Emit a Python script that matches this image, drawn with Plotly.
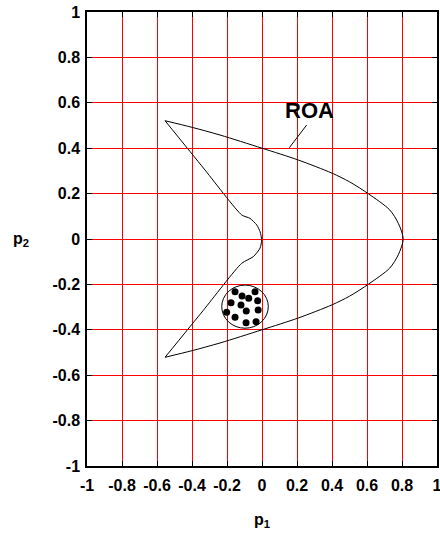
import plotly.graph_objects as go

# Outer boundary of the region of attraction: top vertex -> right bulge -> bottom vertex
outer_p1 = [-0.554, -0.40, -0.24, 0.0, 0.207, 0.40, 0.50, 0.61, 0.73, 0.779, 0.807,
            0.779, 0.73, 0.61, 0.50, 0.40, 0.207, 0.0, -0.24, -0.40, -0.554]
outer_p2 = [0.521, 0.492, 0.458, 0.40, 0.348, 0.29, 0.252, 0.198, 0.128, 0.069, 0.0,
            -0.069, -0.128, -0.198, -0.252, -0.29, -0.348, -0.40, -0.458, -0.492, -0.521]

# Inner boundary: bottom vertex -> notch near the origin -> top vertex
inner_p1 = [-0.554, -0.335, -0.116, -0.05, -0.011, -0.002, -0.011, -0.03, -0.069, -0.116, -0.335, -0.554]
inner_p2 = [-0.521, -0.314, -0.107, -0.078, -0.04, -0.004, 0.032, 0.062, 0.091, 0.106, 0.313, 0.521]

# Sample points inside the initial-condition disc
dots_p1 = [-0.154, -0.114, -0.076, -0.040, -0.025, -0.177, -0.120,
           -0.090, -0.022, -0.202, -0.154, -0.091, -0.034]
dots_p2 = [-0.232, -0.251, -0.261, -0.232, -0.272, -0.281, -0.291,
           -0.317, -0.313, -0.323, -0.345, -0.369, -0.364]

# Disc bounding box
disc_p1 = [-0.230, 0.036]
disc_p2 = [-0.393, -0.203]

# ROA label and leader line
label_pos = [0.269, 0.568]
leader_p1 = [0.255, 0.156]
leader_p2 = [0.502, 0.402]

tick_vals = [-1, -0.8, -0.6, -0.4, -0.2, 0, 0.2, 0.4, 0.6, 0.8, 1]
tick_text = ["-1", "-0.8", "-0.6", "-0.4", "-0.2", "0", "0.2", "0.4", "0.6", "0.8", "1"]

fig = go.Figure()
fig.add_trace(go.Scatter(x=outer_p1, y=outer_p2, mode="lines",
                         line=dict(color="black", width=1, shape="spline", smoothing=0.8),
                         hoverinfo="skip"))
fig.add_trace(go.Scatter(x=inner_p1, y=inner_p2, mode="lines",
                         line=dict(color="black", width=1, shape="spline", smoothing=0.6),
                         hoverinfo="skip"))
fig.add_trace(go.Scatter(x=leader_p1, y=leader_p2, mode="lines",
                         line=dict(color="black", width=1), hoverinfo="skip"))
fig.add_trace(go.Scatter(x=dots_p1, y=dots_p2, mode="markers",
                         marker=dict(color="black", size=7)))

fig.add_shape(type="circle", xref="x", yref="y",
              x0=disc_p1[0], x1=disc_p1[1], y0=disc_p2[0], y1=disc_p2[1],
              line=dict(color="black", width=1))

fig.add_annotation(x=label_pos[0], y=label_pos[1], text="ROA", showarrow=False,
                   font=dict(family="Liberation Sans, Arial", size=22, color="black", weight="bold"))
fig.add_annotation(x=0.0, xref="x", y=-0.119, yref="paper", text="p<sub>1</sub>",
                   showarrow=False, yanchor="middle",
                   font=dict(family="Liberation Sans, Arial", size=16, color="black", weight="bold"))
fig.add_annotation(x=-0.19, xref="paper", y=0.0, yref="y", text="p<sub>2</sub>",
                   showarrow=False, xanchor="center",
                   font=dict(family="Liberation Sans, Arial", size=16, color="black", weight="bold"))

axis_style = dict(
    range=[-1, 1], tickvals=tick_vals, ticktext=tick_text, automargin=False,
    ticklabeloverflow="allow",
    showgrid=True, gridcolor="red", gridwidth=1, zeroline=False,
    showline=True, linecolor="black", linewidth=1.5, mirror="allticks",
    ticks="inside", ticklen=5, tickcolor="black", tickwidth=1,
    tickfont=dict(family="Liberation Sans, Arial", size=16, color="black", weight="bold"),
)

fig.update_layout(
    width=440, height=533,
    margin=dict(l=87, r=3, t=12, b=67),
    paper_bgcolor="white", plot_bgcolor="white",
    showlegend=False,
    xaxis=dict(**axis_style, ticklabelstandoff=4),
    yaxis=dict(**axis_style, ticklabelstandoff=2),
)

fig.write_html("out.html")
